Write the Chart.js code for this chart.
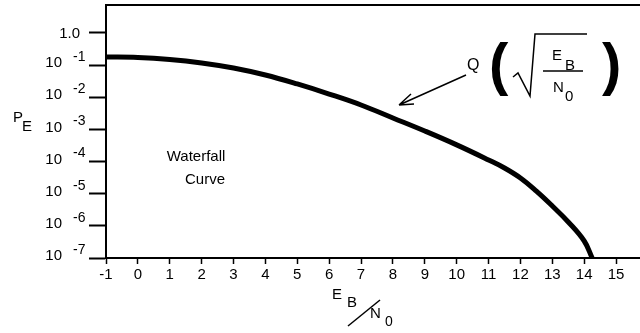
<!DOCTYPE html>
<html>
<head>
<meta charset="utf-8">
<script src="https://cdn.jsdelivr.net/npm/chart.js@4"></script>
<style>
  body { margin: 0; background: #fff; }
  #wrap { width: 640px; height: 333px; }
</style>
</head>
<body>
<div id="wrap"><canvas id="chart" width="640" height="333"></canvas></div>
<script>
// Eb/N0 (dB) and bit error probability
const ebn0 = [-1, 0, 1, 2, 3, 4, 5, 6, 7, 8, 9, 10, 11, 11.5, 12, 12.5, 13, 13.5, 14, 14.25];
const pe = [0.179, 0.173, 0.150, 0.117, 0.0815, 0.0493, 0.0259, 0.0126, 0.00575, 0.00227,
            8.9e-4, 3.3e-4, 1.12e-4, 6.3e-5, 3.08e-5, 1.2e-5, 4.14e-6, 1.32e-6, 3.38e-7, 1.0e-7];

const xTicks = [-1, 0, 1, 2, 3, 4, 5, 6, 7, 8, 9, 10, 11, 12, 13, 14, 15];
const yTicks = [1, 1e-1, 1e-2, 1e-3, 1e-4, 1e-5, 1e-6, 1e-7];
const yExponents = ['', '-1', '-2', '-3', '-4', '-5', '-6', '-7'];

const FONT = '"Liberation Sans", Arial, sans-serif';

// labels, frame and the Q(...) note, drawn on top of the chart
const decorations = {
    id: 'decorations',
    afterDraw(chart) {
        const ctx = chart.ctx;
        const area = chart.chartArea;
        const yScale = chart.scales.y;
        ctx.save();
        ctx.fillStyle = '#000';
        ctx.strokeStyle = '#000';

        // top frame line
        ctx.lineWidth = 2;
        ctx.beginPath();
        ctx.moveTo(area.left - 1, area.top);
        ctx.lineTo(area.right, area.top);
        ctx.stroke();

        // y tick labels: 1.0, then 10 with exponent
        ctx.textBaseline = 'middle';
        yTicks.forEach((v, i) => {
            const py = yScale.getPixelForValue(v);
            if (i === 0) {
                ctx.font = '15px ' + FONT;
                ctx.textAlign = 'right';
                ctx.fillText('1.0', area.left - 26, py + 1);
            } else {
                ctx.font = '15px ' + FONT;
                ctx.textAlign = 'right';
                ctx.fillText('10', area.left - 44, py - 2);
                ctx.font = '14px ' + FONT;
                ctx.textAlign = 'left';
                ctx.fillText(yExponents[i], area.left - 33, py - 8);
            }
        });

        // y title P_E
        ctx.font = '15px ' + FONT;
        ctx.textAlign = 'left';
        ctx.fillText('P', 13, 118);
        ctx.fillText('E', 22, 127);

        // x title E_B / N_0
        ctx.fillText('E', 332, 295);
        ctx.fillText('B', 347, 303);
        ctx.fillText('N', 370, 314);
        ctx.font = '14px ' + FONT;
        ctx.fillText('0', 385, 322);
        ctx.lineWidth = 1.5;
        ctx.beginPath();
        ctx.moveTo(348, 326);
        ctx.lineTo(380, 300);
        ctx.stroke();

        // curve caption
        ctx.font = '15px ' + FONT;
        ctx.textAlign = 'center';
        ctx.fillText('Waterfall', 196, 157);
        ctx.fillText('Curve', 205, 180);

        // Q( sqrt(EB/N0) ) note with arrow
        ctx.textAlign = 'left';
        ctx.font = '16px ' + FONT;
        ctx.fillText('Q', 467, 66);
        ctx.font = 'bold 58px ' + FONT;
        ctx.fillText('(', 489, 68);
        ctx.fillText(')', 602, 68);
        ctx.font = '15px ' + FONT;
        ctx.fillText('E', 552, 56);
        ctx.fillText('N', 553, 88);
        ctx.fillText('B', 565, 66);
        ctx.fillText('0', 565, 97);
        ctx.lineWidth = 1.5;
        ctx.beginPath();
        ctx.moveTo(543, 71);
        ctx.lineTo(583, 71);
        ctx.stroke();
        // radical sign
        ctx.beginPath();
        ctx.moveTo(513, 77);
        ctx.lineTo(518, 73);
        ctx.lineTo(530, 96);
        ctx.lineTo(535, 34);
        ctx.lineTo(587, 34);
        ctx.stroke();
        // arrow
        ctx.beginPath();
        ctx.moveTo(466, 75);
        ctx.lineTo(399, 105);
        ctx.moveTo(399, 105);
        ctx.lineTo(411, 94);
        ctx.moveTo(399, 105);
        ctx.lineTo(414, 104);
        ctx.stroke();

        ctx.restore();
    }
};

const ctx = document.getElementById('chart').getContext('2d');
new Chart(ctx, {
    type: 'line',
    data: {
        datasets: [{
            data: ebn0.map((x, i) => ({ x: x, y: pe[i] })),
            borderColor: '#000',
            borderWidth: 5,
            pointRadius: 0,
            tension: 0.4,
            clip: false
        }]
    },
    options: {
        responsive: false,
        animation: false,
        layout: { padding: { top: 5, right: 0, left: 0, bottom: 0 } },
        plugins: {
            legend: { display: false },
            tooltip: { enabled: false }
        },
        scales: {
            x: {
                type: 'linear',
                min: -1,
                max: 15.75,
                afterBuildTicks: scale => { scale.ticks = xTicks.map(v => ({ value: v })); },
                afterFit: scale => { scale.height = 75; scale.paddingRight = 0; },
                border: { color: '#000', width: 2 },
                grid: { drawOnChartArea: false, tickLength: 6, tickWidth: 1.5, tickColor: '#000' },
                ticks: {
                    color: '#000',
                    font: { family: FONT, size: 15 },
                    padding: 2,
                    maxRotation: 0,
                    autoSkip: false
                }
            },
            y: {
                type: 'logarithmic',
                min: 1e-7,
                max: 7.4,
                afterBuildTicks: scale => { scale.ticks = yTicks.map(v => ({ value: v })); },
                afterFit: scale => { scale.width = 106; scale.paddingTop = 0; scale.paddingBottom = 0; },
                border: { color: '#000', width: 2 },
                grid: { drawOnChartArea: false, tickLength: 17, tickWidth: 2, tickColor: '#000' },
                ticks: { callback: () => '', autoSkip: false }
            }
        }
    },
    plugins: [decorations]
});
</script>
</body>
</html>
